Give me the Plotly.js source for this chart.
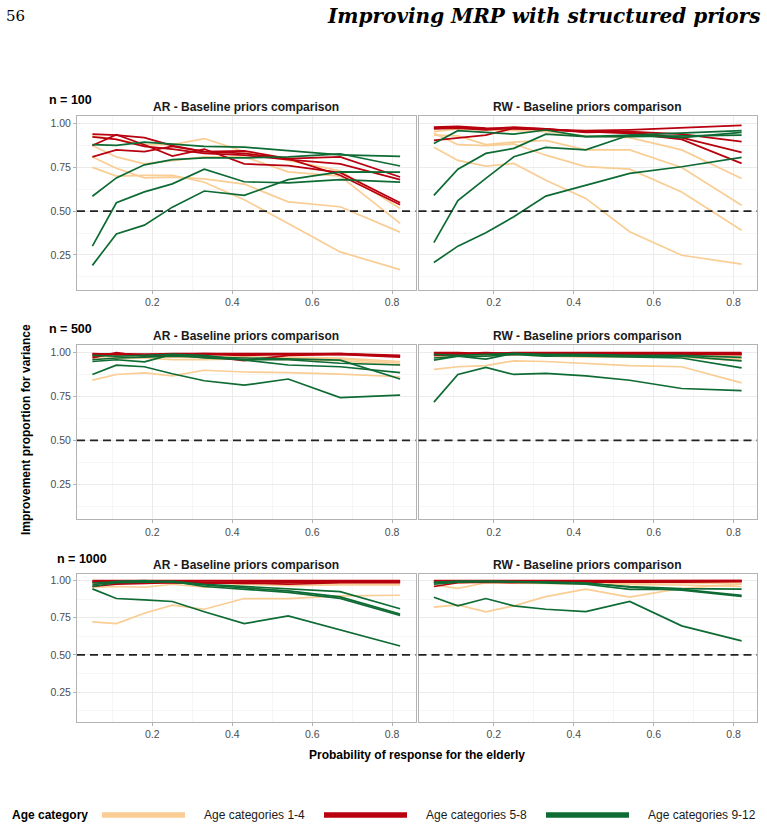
<!DOCTYPE html>
<html>
<head>
<meta charset="utf-8">
<script src="https://cdn.plot.ly/plotly-3.0.1.min.js"></script>
<style>
html,body{margin:0;padding:0;background:#fff;}
#chart{width:767px;height:831px;}
</style>
</head>
<body>
<div id="chart"></div>
<script>
// ---------- data ----------
const probElderly = [0.05, 0.11, 0.18, 0.25, 0.33, 0.43, 0.54, 0.67, 0.82];
const xTickVals = [0.2, 0.4, 0.6, 0.8];
const xTickText = ['0.2', '0.4', '0.6', '0.8'];
const yTickVals = [0.25, 0.5, 0.75, 1.0];
const yTickText = ['0.25', '0.50', '0.75', '1.00'];
const sampleSizeLabels = ['n = 100', 'n = 500', 'n = 1000'];
const priorLabels = ['AR - Baseline priors comparison', 'RW - Baseline priors comparison'];
const ageGroupLabels = ['Age categories 1-4', 'Age categories 5-8', 'Age categories 9-12'];
const legendTitle = 'Age category';
const xAxisTitle = 'Probability of response for the elderly';
const yAxisTitle = 'Improvement proportion for variance';
const pageNumber = '56';
const pageHeader = 'Improving MRP with structured priors';
const referenceLevel = 0.5;

// n = 100, AR
const ar100_age1_4 = [
  [0.93, 0.91, 0.88, 0.88, 0.915, 0.84, 0.79, 0.73, 0.515],
  [0.875, 0.81, 0.77, 0.79, 0.81, 0.81, 0.725, 0.70, 0.43],
  [0.81, 0.745, 0.69, 0.695, 0.685, 0.655, 0.553, 0.525, 0.38],
  [0.75, 0.70, 0.705, 0.705, 0.665, 0.565, 0.43, 0.267, 0.166]
];
const ar100_age5_8 = [
  [0.94, 0.935, 0.92, 0.875, 0.84, 0.83, 0.80, 0.81, 0.695],
  [0.925, 0.91, 0.87, 0.855, 0.83, 0.82, 0.795, 0.77, 0.68],
  [0.875, 0.937, 0.88, 0.815, 0.855, 0.77, 0.76, 0.72, 0.548],
  [0.81, 0.85, 0.84, 0.87, 0.84, 0.845, 0.80, 0.705, 0.536]
];
const ar100_age9_12 = [
  [0.88, 0.876, 0.895, 0.885, 0.87, 0.866, 0.847, 0.822, 0.813],
  [0.585, 0.69, 0.765, 0.795, 0.805, 0.805, 0.81, 0.828, 0.758],
  [0.30, 0.548, 0.61, 0.656, 0.74, 0.668, 0.662, 0.68, 0.666],
  [0.19, 0.37, 0.42, 0.523, 0.615, 0.59, 0.68, 0.725, 0.723]
];
// n = 100, RW
const rw100_age1_4 = [
  [0.955, 0.97, 0.965, 0.96, 0.955, 0.93, 0.92, 0.85, 0.687],
  [0.935, 0.93, 0.88, 0.895, 0.905, 0.85, 0.85, 0.75, 0.534],
  [0.945, 0.88, 0.875, 0.885, 0.82, 0.755, 0.74, 0.61, 0.391],
  [0.865, 0.79, 0.757, 0.773, 0.677, 0.573, 0.382, 0.248, 0.197]
];
const rw100_age5_8 = [
  [0.98, 0.985, 0.975, 0.97, 0.965, 0.96, 0.965, 0.975, 0.99],
  [0.975, 0.98, 0.97, 0.98, 0.97, 0.95, 0.955, 0.94, 0.897],
  [0.97, 0.975, 0.965, 0.975, 0.965, 0.955, 0.95, 0.92, 0.836],
  [0.905, 0.92, 0.935, 0.975, 0.97, 0.955, 0.945, 0.91, 0.773]
];
const rw100_age9_12 = [
  [0.887, 0.96, 0.95, 0.94, 0.964, 0.926, 0.935, 0.948, 0.96],
  [0.59, 0.74, 0.83, 0.859, 0.94, 0.926, 0.926, 0.93, 0.935],
  [0.32, 0.56, 0.687, 0.811, 0.865, 0.85, 0.935, 0.92, 0.95],
  [0.206, 0.30, 0.376, 0.468, 0.586, 0.649, 0.716, 0.754, 0.807]
];
// n = 500, AR
const ar500_age1_4 = [
  [0.99, 0.985, 0.98, 0.985, 0.98, 0.975, 0.975, 0.97, 0.95],
  [0.98, 0.975, 0.97, 0.975, 0.97, 0.97, 0.97, 0.965, 0.94],
  [0.97, 0.965, 0.97, 0.96, 0.96, 0.965, 0.96, 0.955, 0.93],
  [0.844, 0.876, 0.885, 0.868, 0.90, 0.89, 0.887, 0.878, 0.863]
];
const ar500_age5_8 = [
  [0.995, 0.99, 0.99, 0.995, 0.995, 0.995, 0.995, 0.995, 0.985],
  [0.99, 0.995, 0.99, 0.99, 0.995, 0.99, 0.99, 0.99, 0.98],
  [0.98, 0.99, 0.985, 0.99, 0.99, 0.985, 0.99, 0.995, 0.98],
  [0.97, 1.0, 0.98, 0.985, 0.98, 0.955, 0.985, 0.99, 0.975]
];
const ar500_age9_12 = [
  [0.985, 0.98, 0.985, 0.99, 0.97, 0.96, 0.96, 0.94, 0.93],
  [0.96, 0.97, 0.975, 0.98, 0.975, 0.97, 0.965, 0.958, 0.85],
  [0.95, 0.96, 0.948, 0.99, 0.985, 0.96, 0.93, 0.92, 0.886],
  [0.876, 0.929, 0.92, 0.88, 0.84, 0.815, 0.85, 0.744, 0.758]
];
// n = 500, RW
const rw500_age1_4 = [
  [0.995, 0.99, 0.995, 0.995, 0.99, 0.99, 0.99, 0.99, 0.985],
  [0.985, 0.98, 0.985, 0.99, 0.985, 0.98, 0.98, 0.98, 0.965],
  [0.975, 0.985, 0.98, 0.99, 0.98, 0.975, 0.975, 0.975, 0.955],
  [0.905, 0.92, 0.926, 0.954, 0.95, 0.939, 0.926, 0.92, 0.828]
];
const rw500_age5_8 = [
  [1.0, 1.0, 0.995, 1.0, 1.0, 1.0, 1.0, 1.0, 1.0],
  [0.995, 0.995, 1.0, 0.995, 0.995, 0.995, 0.995, 0.995, 0.995],
  [0.99, 0.995, 0.99, 0.995, 0.99, 0.995, 0.995, 0.99, 0.99],
  [0.985, 0.99, 0.995, 0.99, 0.995, 0.99, 0.99, 0.995, 0.99]
];
const rw500_age9_12 = [
  [0.99, 0.985, 0.99, 0.995, 0.99, 0.99, 0.985, 0.985, 0.973],
  [0.97, 0.98, 0.98, 0.99, 0.98, 0.985, 0.98, 0.98, 0.954],
  [0.958, 0.98, 0.964, 0.996, 0.985, 0.98, 0.975, 0.97, 0.914],
  [0.718, 0.876, 0.916, 0.876, 0.882, 0.868, 0.843, 0.796, 0.784]
];
// n = 1000, AR
const ar1000_age1_4 = [
  [0.99, 0.99, 0.995, 0.99, 0.99, 0.99, 0.985, 0.99, 0.985],
  [0.975, 0.98, 0.98, 0.985, 0.98, 0.98, 0.98, 0.98, 0.975],
  [0.955, 0.96, 0.955, 0.975, 0.955, 0.975, 0.965, 0.97, 0.97],
  [0.722, 0.71, 0.78, 0.834, 0.807, 0.879, 0.879, 0.897, 0.901]
];
const ar1000_age5_8 = [
  [1.0, 1.0, 0.995, 1.0, 0.995, 0.995, 1.0, 1.0, 1.0],
  [0.995, 0.99, 0.99, 0.995, 0.99, 0.99, 0.99, 0.995, 0.995],
  [0.985, 0.98, 0.985, 0.99, 0.985, 0.98, 0.985, 0.99, 0.99],
  [0.96, 0.975, 0.98, 0.985, 0.98, 0.985, 0.975, 0.985, 0.985]
];
const ar1000_age9_12 = [
  [0.985, 0.99, 0.99, 0.995, 0.975, 0.96, 0.94, 0.925, 0.81],
  [0.97, 0.995, 1.0, 0.99, 0.97, 0.95, 0.93, 0.89, 0.774],
  [0.96, 0.985, 0.99, 0.995, 0.96, 0.94, 0.92, 0.88, 0.765],
  [0.944, 0.879, 0.87, 0.859, 0.79, 0.71, 0.762, 0.668, 0.56]
];
// n = 1000, RW
const rw1000_age1_4 = [
  [0.99, 0.99, 0.995, 0.995, 0.995, 0.99, 0.99, 0.99, 0.985],
  [0.98, 0.985, 0.99, 0.99, 0.985, 0.985, 0.98, 0.985, 0.975],
  [0.97, 0.948, 0.985, 0.985, 0.98, 0.975, 0.975, 0.97, 0.96],
  [0.821, 0.836, 0.789, 0.83, 0.892, 0.942, 0.888, 0.948, 0.975]
];
const rw1000_age5_8 = [
  [1.0, 1.0, 1.0, 1.0, 1.0, 1.0, 1.0, 1.0, 1.0],
  [0.995, 0.995, 0.995, 0.995, 1.0, 0.995, 0.995, 0.995, 1.0],
  [0.985, 0.99, 0.99, 0.99, 0.995, 0.995, 0.995, 0.995, 0.995],
  [0.96, 0.985, 0.99, 0.985, 0.99, 0.99, 0.985, 0.99, 0.995]
];
const rw1000_age9_12 = [
  [0.99, 0.995, 0.995, 0.995, 0.99, 0.98, 0.96, 0.945, 0.942],
  [0.985, 0.995, 0.995, 0.99, 0.985, 0.975, 0.94, 0.94, 0.90],
  [0.975, 0.99, 0.995, 0.995, 0.99, 0.985, 0.955, 0.935, 0.893],
  [0.888, 0.83, 0.879, 0.83, 0.807, 0.791, 0.859, 0.695, 0.594]
];

// ---------- styling / layout ----------
const W = 767, H = 831;
const groupColors = ['#F9CD93', '#B8000E', '#0E6B34'];
const FONT = 'Liberation Sans, Arial, Helvetica, sans-serif';
const px = v => v / W;
const py = v => 1 - v / H;

const colX = [[77, 415.5], [418.5, 757]];
const rowY = [[116, 289.5], [345, 519], [574, 721.5]];
const rowTitleY = [106.7, 335.7, 565];
const rowLabelX = [47, 47, 55];
const rowLabelY = [100, 329.5, 558.5];

const panelData = [
  [ar100_age1_4, ar100_age5_8, ar100_age9_12],
  [rw100_age1_4, rw100_age5_8, rw100_age9_12],
  [ar500_age1_4, ar500_age5_8, ar500_age9_12],
  [rw500_age1_4, rw500_age5_8, rw500_age9_12],
  [ar1000_age1_4, ar1000_age5_8, ar1000_age9_12],
  [rw1000_age1_4, rw1000_age5_8, rw1000_age9_12]
];

const traces = [];
const layout = {
  width: W, height: H,
  margin: {l: 0, r: 0, t: 0, b: 0, pad: 0},
  paper_bgcolor: '#ffffff',
  plot_bgcolor: '#ffffff',
  showlegend: false,
  font: {family: FONT, color: '#1a1a1a'},
  annotations: [],
  shapes: []
};

panelData.forEach((groups, i) => {
  const row = Math.floor(i / 2), col = i % 2;
  const s = i === 0 ? '' : String(i + 1);
  const xName = 'x' + s, yName = 'y' + s;
  groups.forEach((lines, g) => {
    lines.forEach(vals => {
      traces.push({
        type: 'scatter', mode: 'lines',
        x: probElderly, y: vals,
        xaxis: xName, yaxis: yName,
        line: {color: groupColors[g], width: 1.7},
        hoverinfo: 'skip'
      });
    });
  });
  layout['xaxis' + s] = {
    domain: [px(colX[col][0]), px(colX[col][1])],
    anchor: yName,
    range: [0.0115, 0.8585],
    tickmode: 'array', tickvals: xTickVals, ticktext: xTickText,
    showgrid: true, gridcolor: '#EBEBEB', gridwidth: 1,
    minor: {tickmode: 'array', tickvals: [0.1, 0.3, 0.5, 0.7], showgrid: true, gridcolor: '#F4F4F4', gridwidth: 0.8, ticks: ''},
    zeroline: false, showline: true, mirror: true, linecolor: '#B3B3B3', linewidth: 1,
    ticks: 'outside', ticklen: 3, tickcolor: '#B3B3B3', tickwidth: 1,
    tickfont: {family: FONT, size: 10.5, color: '#4D4D4D'}
  };
  layout['yaxis' + s] = {
    domain: [py(rowY[row][1]), py(rowY[row][0])],
    anchor: xName,
    range: [0.052, 1.044],
    tickmode: 'array', tickvals: yTickVals, ticktext: yTickText,
    showgrid: true, gridcolor: '#EBEBEB', gridwidth: 1,
    minor: {tickmode: 'array', tickvals: [0.125, 0.375, 0.625, 0.875], showgrid: true, gridcolor: '#F4F4F4', gridwidth: 0.8, ticks: ''},
    zeroline: false, showline: true, mirror: true, linecolor: '#B3B3B3', linewidth: 1,
    ticks: col === 0 ? 'outside' : '', ticklen: 3, tickcolor: '#B3B3B3', tickwidth: 1,
    showticklabels: col === 0,
    tickfont: {family: FONT, size: 10.5, color: '#4D4D4D'}
  };
  layout.shapes.push({
    type: 'line', xref: xName + ' domain', yref: yName,
    x0: 0, x1: 1, y0: referenceLevel, y1: referenceLevel,
    line: {color: '#222222', width: 1.6, dash: '8px,5px'}, layer: 'above'
  });
  layout.annotations.push({
    text: '<b>' + priorLabels[col] + '</b>',
    xref: 'paper', yref: 'paper',
    x: px((colX[col][0] + colX[col][1]) / 2), y: py(rowTitleY[row]),
    xanchor: 'center', yanchor: 'middle', showarrow: false,
    font: {family: FONT, size: 12, color: '#1a1a1a'}
  });
  if (col === 0) {
    layout.annotations.push({
      text: '<b>' + sampleSizeLabels[row] + '</b>',
      xref: 'paper', yref: 'paper',
      x: px(rowLabelX[row]), y: py(rowLabelY[row]),
      xanchor: 'left', yanchor: 'middle', showarrow: false,
      font: {family: FONT, size: 12.5, color: '#000'}
    });
  }
});

// axis titles
layout.annotations.push({
  text: '<b>' + yAxisTitle + '</b>', xref: 'paper', yref: 'paper',
  x: px(26), y: py(430), textangle: -90,
  xanchor: 'center', yanchor: 'middle', showarrow: false,
  font: {family: FONT, size: 12, color: '#000'}
});
layout.annotations.push({
  text: '<b>' + xAxisTitle + '</b>', xref: 'paper', yref: 'paper',
  x: px(417), y: py(755), xanchor: 'center', yanchor: 'middle', showarrow: false,
  font: {family: FONT, size: 12, color: '#000'}
});

// legend (drawn manually, ggplot style)
const legendY = 815;
layout.annotations.push({
  text: '<b>' + legendTitle + '</b>', xref: 'paper', yref: 'paper',
  x: px(10), y: py(legendY), xanchor: 'left', yanchor: 'middle', showarrow: false,
  font: {family: FONT, size: 12, color: '#000'}
});
const legendKeyX = [102, 324, 546];
ageGroupLabels.forEach((lab, g) => {
  layout.shapes.push({
    type: 'line', xref: 'paper', yref: 'paper',
    x0: px(legendKeyX[g]), x1: px(legendKeyX[g] + 83), y0: py(legendY), y1: py(legendY),
    line: {color: groupColors[g], width: 5.5}
  });
  layout.annotations.push({
    text: lab, xref: 'paper', yref: 'paper',
    x: px(legendKeyX[g] + 100), y: py(legendY), xanchor: 'left', yanchor: 'middle', showarrow: false,
    font: {family: FONT, size: 12, color: '#1a1a1a'}
  });
});

// page header
layout.annotations.push({
  text: pageNumber, xref: 'paper', yref: 'paper',
  x: px(4), y: py(16), xanchor: 'left', yanchor: 'middle', showarrow: false,
  font: {family: 'DejaVu Serif, Liberation Serif, serif', size: 15, color: '#000'}
});
layout.annotations.push({
  text: '<b><i>' + pageHeader + '</i></b>', xref: 'paper', yref: 'paper',
  x: px(762), y: py(16), xanchor: 'right', yanchor: 'middle', showarrow: false,
  font: {family: 'DejaVu Serif, Liberation Serif, serif', size: 20, color: '#000'}
});

Plotly.newPlot('chart', traces, layout, {staticPlot: true, displayModeBar: false});
</script>
</body>
</html>
